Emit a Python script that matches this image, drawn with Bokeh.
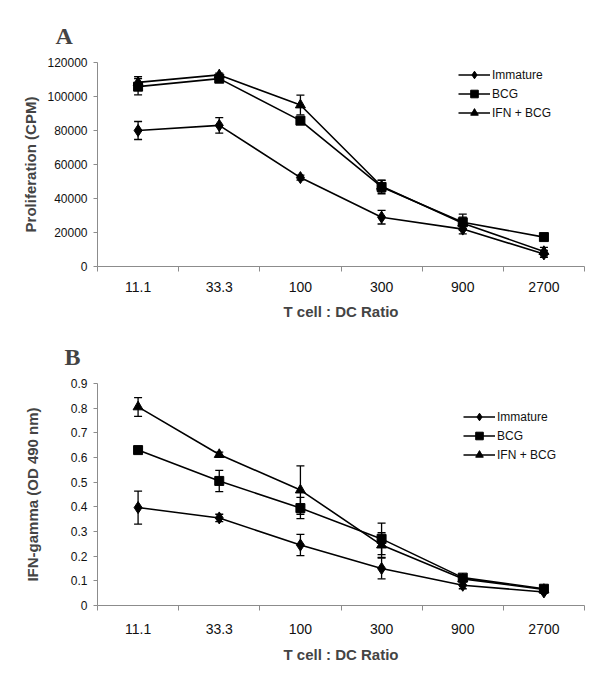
from bokeh.plotting import figure
from bokeh.layouts import column
from bokeh.models import (ColumnDataSource, Whisker, TeeHead, FixedTicker, Range1d,
                          Legend, LegendItem, NumeralTickFormatter)
from bokeh.embed import file_html
from bokeh.resources import INLINE

ratios = ["11.1", "33.3", "100", "300", "900", "2700"]
series_names = ["Immature", "BCG", "IFN + BCG"]

prolif_immature = [80000, 83000, 52300, 29000, 22000, 7400]
prolif_immature_err = [5300, 4600, 1500, 4000, 2800, 2000]
prolif_bcg = [105800, 110500, 85800, 46800, 26000, 17300]
prolif_bcg_err = [4800, 1500, 2000, 4000, 4800, 1000]
prolif_ifn = [108300, 112700, 95000, 47200, 25500, 8800]
prolif_ifn_err = [3400, 1000, 5800, 3500, 3500, 2500]

ifng_immature = [0.397, 0.355, 0.245, 0.150, 0.082, 0.055]
ifng_immature_err = [0.067, 0.015, 0.043, 0.042, 0.014, 0.005]
ifng_bcg = [0.630, 0.505, 0.395, 0.270, 0.113, 0.068]
ifng_bcg_err = [0.006, 0.043, 0.043, 0.064, 0.010, 0.008]
ifng_ifn = [0.805, 0.612, 0.468, 0.245, 0.108, 0.065]
ifng_ifn_err = [0.038, 0.010, 0.098, 0.050, 0.010, 0.005]

prolif_ticks = [0, 20000, 40000, 60000, 80000, 100000, 120000]
ifng_ticks = [0, 0.1, 0.2, 0.3, 0.4, 0.5, 0.6, 0.7, 0.8, 0.9]

FONT = "Liberation Sans"
AXIS_GRAY = "#8c8c8c"


def make_panel(letter, values, errors, ymax, yticks, yfmt, ylabel, height,
               borders, title_offset, tick_standoff, label_standoff,
               ylabel_standoff, legend_loc):
    bl, br, bt, bb = borders
    p = figure(width=600, height=height, output_backend="svg", toolbar_location=None,
               x_range=Range1d(0, len(ratios)), y_range=Range1d(0, ymax),
               min_border_left=bl, min_border_right=br,
               min_border_top=bt, min_border_bottom=bb)
    p.outline_line_color = None
    p.grid.visible = False

    p.title.text = letter
    p.title.text_font = "Liberation Serif"
    p.title.text_font_style = "bold"
    p.title.text_font_size = "24px"
    p.title.align = "left"
    p.title.offset = title_offset
    p.title.standoff = 27

    xs = [i + 0.5 for i in range(len(ratios))]
    xa = p.xaxis[0]
    xa.ticker = FixedTicker(ticks=xs, minor_ticks=list(range(len(ratios) + 1)))
    xa.major_label_overrides = {x: r for x, r in zip(xs, ratios)}
    xa.major_tick_line_color = None
    xa.major_tick_out = 0
    xa.major_tick_in = 0
    xa.minor_tick_out = 5
    xa.minor_tick_in = 0
    xa.minor_tick_line_color = AXIS_GRAY
    xa.axis_line_color = AXIS_GRAY
    xa.major_label_text_font = FONT
    xa.major_label_text_font_size = "14px"
    xa.major_label_text_color = "#111111"
    xa.major_label_standoff = tick_standoff
    xa.axis_label = "T cell : DC Ratio"
    xa.axis_label_text_font = FONT
    xa.axis_label_text_font_style = "bold"
    xa.axis_label_text_font_size = "15px"
    xa.axis_label_standoff = label_standoff

    ya = p.yaxis[0]
    ya.ticker = FixedTicker(ticks=yticks, minor_ticks=[])
    ya.formatter = NumeralTickFormatter(format=yfmt)
    ya.major_tick_out = 4
    ya.major_tick_in = 0
    ya.major_tick_line_color = AXIS_GRAY
    ya.axis_line_color = AXIS_GRAY
    ya.major_label_text_font = FONT
    ya.major_label_text_font_size = "12px"
    ya.major_label_text_color = "#111111"
    ya.major_label_standoff = 6
    ya.axis_label = ylabel
    ya.axis_label_text_font = FONT
    ya.axis_label_text_font_style = "bold"
    ya.axis_label_text_font_size = "15px"
    ya.axis_label_standoff = ylabel_standoff

    markers = [("diamond", 12), ("square", 9), ("triangle", 10)]
    items = []
    for name, vals, errs, (mk, sz) in zip(series_names, values, errors, markers):
        src = ColumnDataSource(dict(
            x=xs, y=vals,
            upper=[v + e for v, e in zip(vals, errs)],
            lower=[v - e for v, e in zip(vals, errs)]))
        w = Whisker(base="x", upper="upper", lower="lower", source=src,
                    line_color="black", line_width=1.3,
                    upper_head=TeeHead(size=8, line_color="black", line_width=1.3),
                    lower_head=TeeHead(size=8, line_color="black", line_width=1.3))
        p.add_layout(w)
        ln = p.line("x", "y", source=src, line_color="black", line_width=1.6)
        sc = p.scatter("x", "y", source=src, marker=mk, size=sz,
                       fill_color="black", line_color="black")
        items.append(LegendItem(label=name, renderers=[ln, sc]))

    leg = Legend(items=items, location=legend_loc)
    leg.border_line_color = None
    leg.background_fill_alpha = 0
    leg.padding = 0
    leg.margin = 0
    leg.spacing = 0
    leg.glyph_width = 32
    leg.glyph_height = 19
    leg.label_height = 19
    leg.label_standoff = 2
    leg.label_text_font = FONT
    leg.label_text_font_size = "12px"
    leg.label_text_color = "#111111"
    p.add_layout(leg)
    return p


top = make_panel("A", [prolif_immature, prolif_bcg, prolif_ifn],
                 [prolif_immature_err, prolif_bcg_err, prolif_ifn_err],
                 120000, prolif_ticks, "0", "Proliferation (CPM)", 328,
                 (97, 16, 62, 62), -42, 10, 8, 5, (361, 144))

bottom = make_panel("B", [ifng_immature, ifng_bcg, ifng_ifn],
                    [ifng_immature_err, ifng_bcg_err, ifng_ifn_err],
                    0.9, ifng_ticks, "0.[0]", "IFN-gamma (OD 490 nm)", 361,
                    (88, 8, 55, 84), -33, 13, 9, 27, (366, 141))

layout = column(top, bottom, spacing=0)
open("out.html", "w").write(file_html(layout, INLINE))
